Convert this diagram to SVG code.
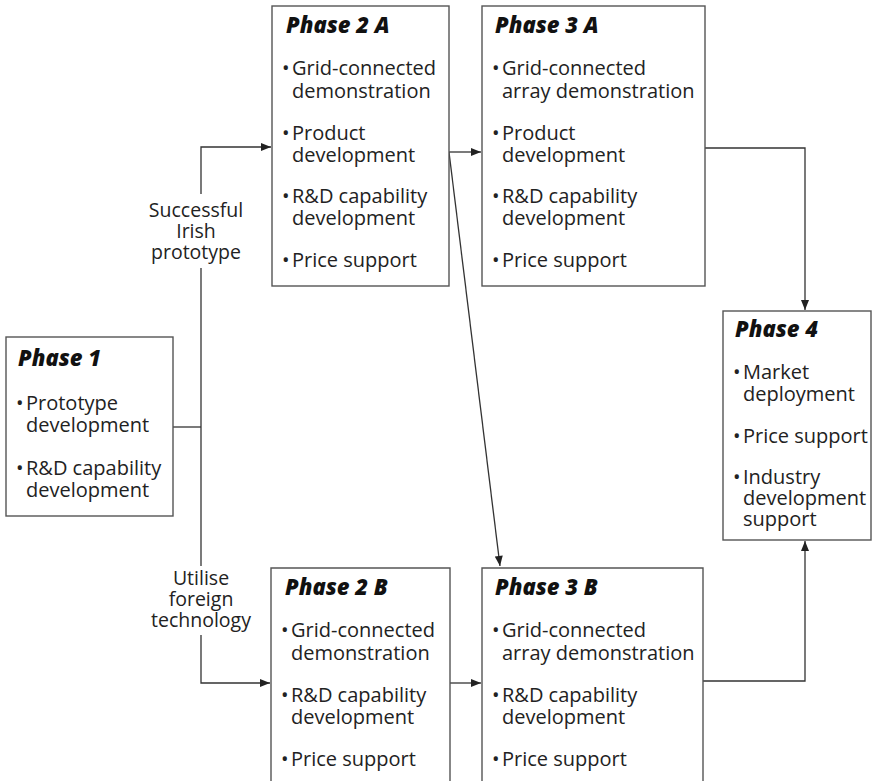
<svg xmlns="http://www.w3.org/2000/svg" width="872" height="781" viewBox="0 0 872 781">
<defs>
<marker id="ah" viewBox="0 0 10 8" refX="10" refY="4" markerWidth="11" markerHeight="8" markerUnits="userSpaceOnUse" orient="auto">
<path d="M0,0 L10,4 L0,8 Z" fill="#222"/>
</marker>
<style>
.box{fill:#fff;stroke:#555;stroke-width:1.4}
.t{font-family:"Open Sans","Liberation Sans",sans-serif;font-size:20px;fill:#222}
.h{font-family:"Open Sans","Liberation Sans",sans-serif;font-size:22px;font-weight:800;font-style:italic;fill:#111}
.lbl{font-family:"Open Sans","Liberation Sans",sans-serif;font-size:19.5px;fill:#222;text-anchor:middle}
.c{fill:none;stroke:#333;stroke-width:1.3}
</style>
</defs>
<rect width="872" height="781" fill="#fff"/>

<g id="connectors">
<path class="c" d="M173,427 H201"/>
<path class="c" d="M201,194 V147 H271" marker-end="url(#ah)"/>
<path class="c" d="M201,268 V566"/>
<path class="c" d="M201,635 V683 H270" marker-end="url(#ah)"/>
<path class="c" d="M449,152 H481" marker-end="url(#ah)"/>
<path class="c" d="M449,152 L500,566" marker-end="url(#ah)"/>
<path class="c" d="M450,683 H481" marker-end="url(#ah)"/>
<path class="c" d="M705,148 H805 V310" marker-end="url(#ah)"/>
<path class="c" d="M703,681 H805 V541" marker-end="url(#ah)"/>
<text class="lbl" x="196" y="217">Successful</text>
<text class="lbl" x="196" y="238">Irish</text>
<text class="lbl" x="196" y="259">prototype</text>
<text class="lbl" x="201" y="585">Utilise</text>
<text class="lbl" x="201" y="606">foreign</text>
<text class="lbl" x="201" y="627">technology</text>
</g>

<g id="phase1">
<rect class="box" x="6" y="337" width="167" height="179"/>
<text class="h" x="18" y="366">Phase 1</text>
<text class="t" x="16" y="410">•</text><text class="t" x="26" y="410">Prototype</text>
<text class="t" x="26" y="432">development</text>
<text class="t" x="16" y="475">•</text><text class="t" x="26" y="475">R&amp;D capability</text>
<text class="t" x="26" y="497">development</text>
</g>

<g id="phase2a">
<rect class="box" x="272" y="6" width="177" height="280"/>
<text class="h" x="286" y="33">Phase 2 A</text>
<text class="t" x="282" y="75">•</text><text class="t" x="292" y="75">Grid-connected</text>
<text class="t" x="292" y="98">demonstration</text>
<text class="t" x="282" y="140">•</text><text class="t" x="292" y="140">Product</text>
<text class="t" x="292" y="162">development</text>
<text class="t" x="282" y="203">•</text><text class="t" x="292" y="203">R&amp;D capability</text>
<text class="t" x="292" y="225">development</text>
<text class="t" x="282" y="267">•</text><text class="t" x="292" y="267">Price support</text>
</g>

<g id="phase3a">
<rect class="box" x="482" y="6" width="223" height="280"/>
<text class="h" x="495" y="33">Phase 3 A</text>
<text class="t" x="492" y="75">•</text><text class="t" x="502" y="75">Grid-connected</text>
<text class="t" x="502" y="98">array demonstration</text>
<text class="t" x="492" y="140">•</text><text class="t" x="502" y="140">Product</text>
<text class="t" x="502" y="162">development</text>
<text class="t" x="492" y="203">•</text><text class="t" x="502" y="203">R&amp;D capability</text>
<text class="t" x="502" y="225">development</text>
<text class="t" x="492" y="267">•</text><text class="t" x="502" y="267">Price support</text>
</g>

<g id="phase4">
<rect class="box" x="723" y="311" width="148" height="229"/>
<text class="h" x="735" y="337">Phase 4</text>
<text class="t" x="733" y="379">•</text><text class="t" x="743" y="379">Market</text>
<text class="t" x="743" y="401">deployment</text>
<text class="t" x="733" y="443">•</text><text class="t" x="743" y="443">Price support</text>
<text class="t" x="733" y="484">•</text><text class="t" x="743" y="484">Industry</text>
<text class="t" x="743" y="505">development</text>
<text class="t" x="743" y="526">support</text>
</g>

<g id="phase2b">
<path class="box" d="M271,790 V568 H450 V790"/>
<text class="h" x="285" y="595">Phase 2 B</text>
<text class="t" x="281" y="637">•</text><text class="t" x="291" y="637">Grid-connected</text>
<text class="t" x="291" y="660">demonstration</text>
<text class="t" x="281" y="702">•</text><text class="t" x="291" y="702">R&amp;D capability</text>
<text class="t" x="291" y="724">development</text>
<text class="t" x="281" y="766">•</text><text class="t" x="291" y="766">Price support</text>
</g>

<g id="phase3b">
<path class="box" d="M482,790 V568 H703 V790"/>
<text class="h" x="495" y="595">Phase 3 B</text>
<text class="t" x="492" y="637">•</text><text class="t" x="502" y="637">Grid-connected</text>
<text class="t" x="502" y="660">array demonstration</text>
<text class="t" x="492" y="702">•</text><text class="t" x="502" y="702">R&amp;D capability</text>
<text class="t" x="502" y="724">development</text>
<text class="t" x="492" y="766">•</text><text class="t" x="502" y="766">Price support</text>
</g>
</svg>
